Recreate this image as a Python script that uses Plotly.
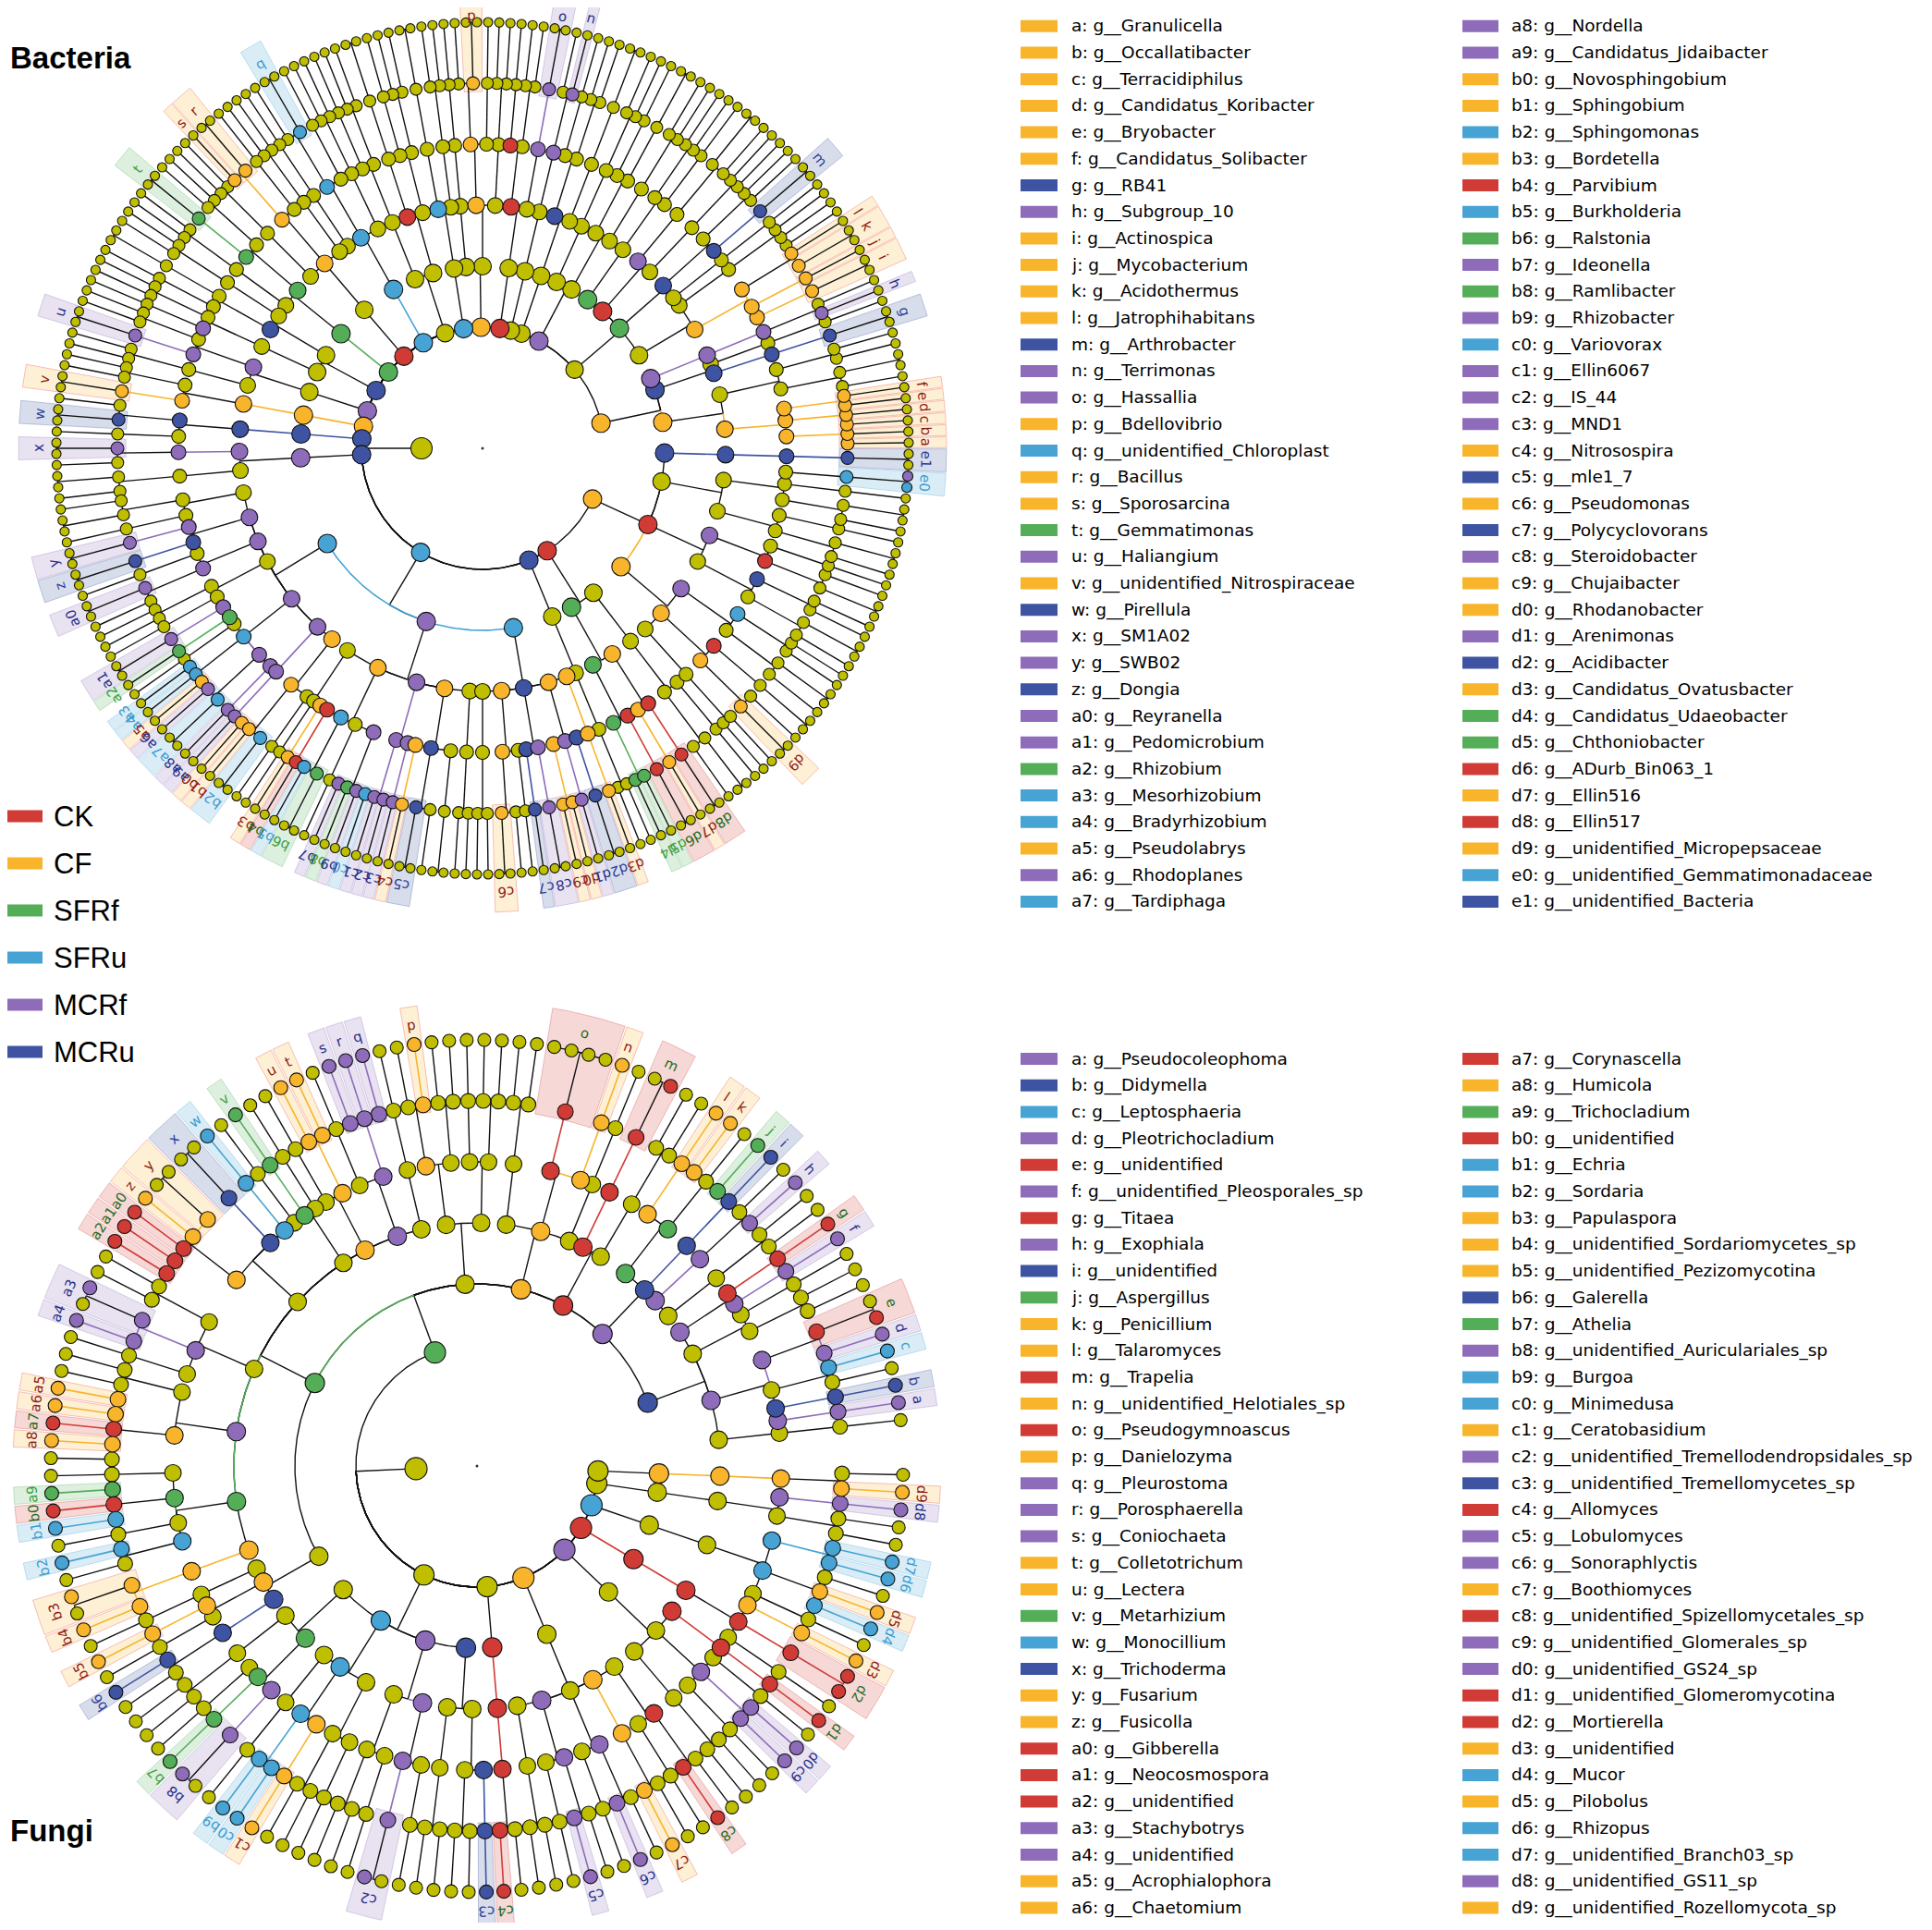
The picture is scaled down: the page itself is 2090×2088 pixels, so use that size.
import math
import plotly.graph_objects as go

# groups and colours
group_names = ["CK", "CF", "SFRf", "SFRu", "MCRf", "MCRu"]
group_codes = ["R", "O", "G", "B", "P", "N"]
group_colors = ["#D13B36", "#F8B42B", "#54AE58", "#46A3D4", "#8E6CBA", "#3E54A2"]
label_colors = ["#1F6B22", "#8E1B16", "#3E9F43", "#3C9BD0", "#26308A", "#2C3F98"]
OLIVE = "#BFBF00"

# tree of each cladogram, one token per outer leaf (in angular order):
# first digit = level where the leaf leaves the lineage of the previous one
# (2 phylum ... 7 species), then marks <group><level>[*] (* = labelled clade)
bacteria_phyla = [
    "2O2O3O4O5O6* 6O6* 6O6* 5O5O6* 5O5O6* 6O6* 4 6 7 5 6 3N3N4N5N6* 7 4 3P3P4P5P6* 6",
    "2O4O5O6* 7 5O5O6* 5O5O6* 7 6O6* 6 4 6 3G3 4N4N5N6* 7 5 6 3R3 6 4P4 6 7 3G3 5 6",
    "2P2 6 4 7 5 3 6",
    "2 7 4N4 6 5",
    "2P5P6* 6",
    "2R2P5P6* 7 4R4 6 5R5",
    "2O2 6 4 5O4O5O6* 7 6 3",
    "2B2 6 4B4 7",
    "2 6 5 4R4 7 3 6 5",
    "2B2 6 4 5B3B4B5B6* 7 6 4",
    "2R2 6 4O4 5O5O6* 7 6O6* 4 6",
    "2G2 6 5G3G4G5G6* 7 4 6",
    "2N2 6 4N4 7 5 3 6 5P5",
    "2P2 6 5P4P5P6* 7 4 6",
    "2O2 6 5O3O4O5O6* 7",
    "2N2 6N3N4N5N6* 7 5",
    "2N2P3P4P5P6* 7 6 4 7 6",
    "2B2B3 6 7 5 4P4P5P6* 7 5N5N6* 7 4 5P4P5P6* 7 6 4 6 5 4P4P5P6* 7 5G5G6* 5 "
    "5B5B6* 6B6* 6O6* 5P5P6* 6B6* 7 5P5P6* 4P4P5P6* 4O4O5O6* 6O6* 6B6* 7 5 "
    "3P3 4O4O5O6* 5R5R6* 5B5B6* 6G6* 7 5 5P5P6* 6G6* 6P6* 6B6* 4P4P5P6* 6P6* "
    "5P5P6* 4O4O5O6* 5N5N6* 7 6 5 7 4 6 "
    "3B3 6 4O4O5O6* 7 6 5 4N4N5N6* 5P5P6* 7 4O4O5O6* 6O6* 5P5P6* 5N5N6* 7 4O4O5O6*",
    "2N2 6",
    "2R2G3G4G5G6* 6G6* 5R5R6* 7 4O4O5O6* 5R5R6* 7 3 6 7 5",
    "2O2 6 4O3O4O5O6* 7 6 5R5 7 4P4 6 7 5B5 6 3R3 6 7 5N5 6 4P4R5 7 6 5 3 6 7 5 4 6 7 5 "
    "5B6*B7 7P7 3N3N4N5N6* 7",
]

fungi_phyla = [
    "2G2N3 4P4P5P6*P7 5N5N6*N7 5 6B6*B7 5P5P6*P7 6R6*R7 7 4 6 5 4P4P5P6*P7 5R5R6*R7 "
    "3P3 6 4P4P5P6*P7 6 4N4N5N6*N7 4G4G5G6*G7 6 6O6*O7 5O5O6*O7 "
    "3R3 6 4R4R5R6*R7 7 "
    "3O3 4O4O5O6*O7 5R5R6* 7 7 7 4 6 "
    "3 6 5 4 6 5O5O6*O7 6 "
    "3G3 4P4P5P6*P7 6P6*P7 6P6*P7 5 4O4O5O6*O7 6O6*O7 5 4 5G5G6*G7 4 5B5B6*B7 5N5N6* 7 "
    "5O5O6* 7 6O6*O7 6R6*R7 6R6*R7 6R6*R7 4 6 5P5P6*P7 7 6P6*P7 5 4P4 6 5O5O6*O7 6O6*O7 "
    "6R6*R7 6O6*O7 6 4G4 5G5G6*G7 6R6*R7 6B6*B7 5 5B5B6*B7 6 4O4O5O6*O7 7 6O6*O7 "
    "3 4O4O5O6*O7 5 4N4N5N6*N7 6",
    "2 6 4 5G4G5G6*G7 5P5P6*P7 7 3B3 4B4B5B6*B7 6B6*B7 5O5O6*O7 4 6 5 3P3 6 5 "
    "4P4P5P6*P7 7 5 3N3 6 4 6 5N5N6*N7",
    "2R3R4R5R6*R7 6",
    "2O2 6 4 5P4P5P6*P7 6 4 5P5P6*P7 6 4O4O5O6*O7 6 4 5R5R6*R7 6",
    "2P2 6 4 5P5P6*P7 6P6*P7 5 4R4R5R6*R7",
    "2R2R3 5R4R5R6*R7 7R7 5O5O6*O7",
    "2B2 5B5B6*B7 6O6*O7 6 5B5B6*B7 6B6*B7",
    "2 6 5P5P6*P7",
    "2O3O4O5O6*O7 6",
]

bacteria_genera = [
    "g__Granulicella", "g__Occallatibacter", "g__Terracidiphilus", "g__Candidatus_Koribacter",
    "g__Bryobacter", "g__Candidatus_Solibacter", "g__RB41", "g__Subgroup_10", "g__Actinospica",
    "g__Mycobacterium", "g__Acidothermus", "g__Jatrophihabitans", "g__Arthrobacter",
    "g__Terrimonas", "g__Hassallia", "g__Bdellovibrio", "g__unidentified_Chloroplast",
    "g__Bacillus", "g__Sporosarcina", "g__Gemmatimonas", "g__Haliangium",
    "g__unidentified_Nitrospiraceae", "g__Pirellula", "g__SM1A02", "g__SWB02", "g__Dongia",
    "g__Reyranella", "g__Pedomicrobium", "g__Rhizobium", "g__Mesorhizobium",
    "g__Bradyrhizobium", "g__Pseudolabrys", "g__Rhodoplanes", "g__Tardiphaga",
    "g__Nordella", "g__Candidatus_Jidaibacter", "g__Novosphingobium", "g__Sphingobium",
    "g__Sphingomonas", "g__Bordetella", "g__Parvibium", "g__Burkholderia", "g__Ralstonia",
    "g__Ideonella", "g__Ramlibacter", "g__Rhizobacter", "g__Variovorax", "g__Ellin6067",
    "g__IS_44", "g__MND1", "g__Nitrosospira", "g__mle1_7", "g__Pseudomonas",
    "g__Polycyclovorans", "g__Steroidobacter", "g__Chujaibacter", "g__Rhodanobacter",
    "g__Arenimonas", "g__Acidibacter", "g__Candidatus_Ovatusbacter",
    "g__Candidatus_Udaeobacter", "g__Chthoniobacter", "g__ADurb_Bin063_1", "g__Ellin516",
    "g__Ellin517", "g__unidentified_Micropepsaceae", "g__unidentified_Gemmatimonadaceae",
    "g__unidentified_Bacteria",
]

fungi_genera = [
    "g__Pseudocoleophoma", "g__Didymella", "g__Leptosphaeria", "g__Pleotrichocladium",
    "g__unidentified", "g__unidentified_Pleosporales_sp", "g__Titaea", "g__Exophiala",
    "g__unidentified", "g__Aspergillus", "g__Penicillium", "g__Talaromyces", "g__Trapelia",
    "g__unidentified_Helotiales_sp", "g__Pseudogymnoascus", "g__Danielozyma",
    "g__Pleurostoma", "g__Porosphaerella", "g__Coniochaeta", "g__Colletotrichum",
    "g__Lectera", "g__Metarhizium", "g__Monocillium", "g__Trichoderma", "g__Fusarium",
    "g__Fusicolla", "g__Gibberella", "g__Neocosmospora", "g__unidentified",
    "g__Stachybotrys", "g__unidentified", "g__Acrophialophora", "g__Chaetomium",
    "g__Corynascella", "g__Humicola", "g__Trichocladium", "g__unidentified", "g__Echria",
    "g__Sordaria", "g__Papulaspora", "g__unidentified_Sordariomycetes_sp",
    "g__unidentified_Pezizomycotina", "g__Galerella", "g__Athelia",
    "g__unidentified_Auriculariales_sp", "g__Burgoa", "g__Minimedusa", "g__Ceratobasidium",
    "g__unidentified_Tremellodendropsidales_sp", "g__unidentified_Tremellomycetes_sp",
    "g__Allomyces", "g__Lobulomyces", "g__Sonoraphlyctis", "g__Boothiomyces",
    "g__unidentified_Spizellomycetales_sp", "g__unidentified_Glomerales_sp",
    "g__unidentified_GS24_sp", "g__unidentified_Glomeromycotina", "g__Mortierella",
    "g__unidentified", "g__Mucor", "g__Pilobolus", "g__Rhizopus",
    "g__unidentified_Branch03_sp", "g__unidentified_GS11_sp",
    "g__unidentified_Rozellomycota_sp",
]

# layout (pixels of the page)
W, H = 2090, 2088
PAD = 8
RADII = [0, 66, 131, 197, 263, 329, 395, 461]
WEDGE_OUT = 502

COLOR = dict(zip(group_codes, group_colors))
TCOLOR = dict(zip(group_codes, label_colors))


def rgba(hexc, a):
    h = hexc.lstrip("#")
    return "rgba(%d,%d,%d,%.2f)" % (int(h[0:2], 16), int(h[2:4], 16), int(h[4:6], 16), a)


def parse_tree(phyla):
    tokens = " ".join(phyla).split()
    root = {"level": 0, "children": [], "leaves": [], "color": None, "label": False}
    nodes = [root]
    path = [root]
    for i, tok in enumerate(tokens):
        d = int(tok[0]) if i > 0 else 1
        path = path[:d]
        for lvl in range(d, 8):
            n = {"level": lvl, "children": [], "leaves": [], "color": None, "label": False}
            path[-1]["children"].append(n)
            path.append(n)
            nodes.append(n)
        for n in path:
            n["leaves"].append(i)
        marks = tok[1:]
        k = 0
        while k < len(marks):
            code, lvl = marks[k], int(marks[k + 1])
            k += 2
            path[lvl]["color"] = code
            if k < len(marks) and marks[k] == "*":
                path[lvl]["label"] = True
                k += 1
    return nodes, len(tokens)


def letter(k):
    if k < 26:
        return chr(97 + k)
    k -= 26
    return chr(97 + k // 10) + str(k % 10)


def pol(cx, cy, r, th):
    t = math.radians(th)
    return cx + r * math.cos(t), cy - r * math.sin(t)


def arc(cx, cy, r, a0, a1):
    n = max(2, int(abs(a1 - a0) / 0.8) + 2)
    return [pol(cx, cy, r, a0 + (a1 - a0) * k / (n - 1)) for k in range(n)]


fig = go.Figure()
annotations = []
shapes = []


def cladogram(phyla, cx, cy, start, span, sizes, label_r):
    nodes, n_leaves = parse_tree(phyla)
    step = span / n_leaves
    leaf_th = [start + step * (i + 0.5) for i in range(n_leaves)]
    for n in nodes:
        n["th"] = (leaf_th[n["leaves"][0]] + leaf_th[n["leaves"][-1]]) / 2

    # highlighted wedges
    wedges = {}
    labelled = sorted([n for n in nodes if n["label"]], key=lambda n: n["leaves"][0])
    for n in labelled:
        a0 = leaf_th[n["leaves"][0]] - 0.45 * step
        a1 = leaf_th[n["leaves"][-1]] + 0.45 * step
        r0 = RADII[n["level"]] - 9
        pts = arc(cx, cy, WEDGE_OUT, a0, a1) + arc(cx, cy, r0, a1, a0)
        pts.append(pts[0])
        xs, ys = wedges.setdefault(n["color"], ([], []))
        for x, y in pts:
            xs.append(x)
            ys.append(y)
        xs.append(None)
        ys.append(None)
    for code, (xs, ys) in wedges.items():
        edge = "rgba(240,120,110,0.45)" if code == "O" else rgba(COLOR[code], 0.3)
        fig.add_trace(go.Scatter(x=xs, y=ys, mode="lines", fill="toself",
                                 fillcolor=rgba(COLOR[code], 0.2),
                                 line=dict(color=edge, width=1), hoverinfo="skip"))

    # branches: coloured only along chains of clades of the same class
    segs = {}

    def add(key, pts):
        xs, ys = segs.setdefault(key, ([], []))
        for x, y in pts:
            xs.append(x)
            ys.append(y)
        xs.append(None)
        ys.append(None)

    for p in nodes:
        if p["level"] == 0 or not p["children"]:
            continue
        rp, rc = RADII[p["level"]], RADII[p["level"] + 1]
        same = [c["color"] is not None and c["color"] == p["color"] for c in p["children"]]
        add(p["color"] if all(same) else None,
            [pol(cx, cy, rp, p["th"]), pol(cx, cy, rc, p["th"])])
        for c, s in zip(p["children"], same):
            if abs(c["th"] - p["th"]) > 1e-6:
                add(c["color"] if s else None, arc(cx, cy, rc, p["th"], c["th"]))
    for key in [None] + group_codes:
        if key not in segs:
            continue
        xs, ys = segs[key]
        fig.add_trace(go.Scatter(x=xs, y=ys, mode="lines",
                                 line=dict(color="#111111" if key is None else COLOR[key],
                                           width=1.4 if key is None else 1.6),
                                 hoverinfo="skip"))

    # nodes: olive first, coloured on top
    order = sorted([n for n in nodes if n["level"] > 0], key=lambda n: n["color"] is not None)
    xs, ys, sz, cl = [], [], [], []
    for n in order:
        x, y = pol(cx, cy, RADII[n["level"]], n["th"])
        xs.append(x)
        ys.append(y)
        sz.append(sizes[n["level"]] + (1 if n["color"] else 0))
        cl.append(COLOR[n["color"]] if n["color"] else OLIVE)
    fig.add_trace(go.Scatter(x=xs, y=ys, mode="markers",
                             marker=dict(size=sz, color=cl, opacity=1,
                                         line=dict(color="#111111", width=1.1)),
                             hoverinfo="skip"))
    fig.add_trace(go.Scatter(x=[cx], y=[cy], mode="markers",
                             marker=dict(size=3, color="#333333"), hoverinfo="skip"))

    # clade letters (pulled in a little where they would leave the page)
    codes = []
    for k, n in enumerate(labelled):
        th = n["th"]
        r = label_r
        s = math.sin(math.radians(th))
        if s > 0.05:
            r = max(RADII[7] + 7, min(r, (cy - PAD - 10) / s))
        x, y = pol(cx, cy, r, th)
        ang = (90 - th) % 360
        if ang > 180:
            ang -= 360
        annotations.append(dict(x=x, y=y, xref="x", yref="y", text=letter(k),
                                showarrow=False, textangle=ang,
                                font=dict(family="DejaVu Sans", size=15,
                                          color=TCOLOR[n["color"]]),
                                xanchor="center", yanchor="middle"))
        codes.append(n["color"])
    return codes


def genus_legend(names, codes, y0, per_col):
    cols = [(1104, 1144, 1157), (1582, 1621, 1633)]
    for k, name in enumerate(names):
        col = 0 if k < per_col else 1
        row = k if k < per_col else k - per_col
        y = y0 + 28.7 * row
        sx0, sx1, tx = cols[col]
        code = codes[k] if k < len(codes) else "O"
        shapes.append(dict(type="rect", xref="x", yref="y", x0=sx0, x1=sx1,
                           y0=y - 6.5, y1=y + 6.5, line=dict(width=0),
                           fillcolor=COLOR[code]))
        annotations.append(dict(x=tx, y=y, xref="x", yref="y",
                                text="%s: %s" % (letter(k), name), showarrow=False,
                                xanchor="left", yanchor="middle",
                                font=dict(family="DejaVu Sans", size=18.5, color="black")))


b_codes = cladogram(bacteria_phyla, 522, 485, 0.0, 360.0,
                    [3, 23, 19, 19, 17, 15, 13, 10], 480)
f_codes = cladogram(fungi_phyla, 516, 1586, 5.0, 355.0,
                    [3, 24, 22, 20, 19, 18, 16, 14], 482)

genus_legend(bacteria_genera, b_codes, 28.3, 34)
genus_legend(fungi_genera, f_codes, 1145.5, 33)

# group legend
for k, (name, colr) in enumerate(zip(group_names, group_colors)):
    y = 883 + 51 * k
    shapes.append(dict(type="rect", xref="x", yref="y", x0=8, x1=46, y0=y - 6.5, y1=y + 6.5,
                       line=dict(width=0), fillcolor=colr))
    annotations.append(dict(x=56, y=y, xref="x", yref="y", text=name, showarrow=False,
                            xanchor="left", yanchor="middle",
                            font=dict(family="Liberation Sans, Arial", size=31, color="black")))

for txt, y in [("Bacteria", 62), ("Fungi", 1980)]:
    annotations.append(dict(x=9, y=y, xref="x", yref="y", text="<b>%s</b>" % txt,
                            showarrow=False, xanchor="left", yanchor="middle",
                            font=dict(family="Liberation Sans, Arial", size=33, color="black")))

fig.update_layout(
    width=W - 2 * PAD, height=H - 2 * PAD,
    margin=dict(l=0, r=0, t=0, b=0),
    paper_bgcolor="white", plot_bgcolor="white",
    showlegend=False,
    xaxis=dict(range=[PAD, W - PAD], visible=False, fixedrange=True),
    yaxis=dict(range=[H - PAD, PAD], visible=False, fixedrange=True),
    annotations=annotations,
    shapes=shapes,
)

fig.write_html("out.html")
